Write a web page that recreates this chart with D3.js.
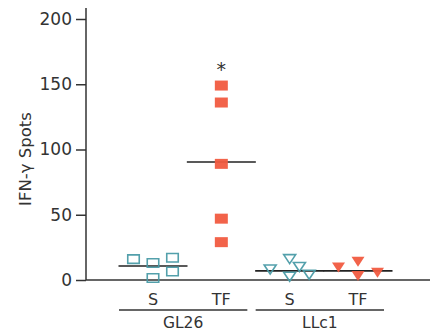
<!DOCTYPE html>
<html>
<head>
<meta charset="utf-8">
<script src="https://cdn.jsdelivr.net/npm/d3@7"></script>
<style>
  body { margin: 0; background: #fff; }
  text { font-family: "DejaVu Sans", sans-serif; fill: #333; }
</style>
</head>
<body>
<div id="chart"></div>
<script>
// data
var groups = ["GL26", "LLc1"];
var conditions = ["S", "TF"];
var yTicks = [0, 50, 100, 150, 200];

var gl26S = [16, 13, 1.5, 17, 6.5];
var gl26SSlot = [-2, 0, 0, 2, 2];
var gl26TF = [149, 136, 89, 47, 29];
var gl26TFSlot = [0, 0, 0, 0, 0];
var llc1S = [8, 16, 10, 2.5, 4];
var llc1SSlot = [-2, 0, 1, 0, 2];
var llc1TF = [9.5, 14, 3, 5.5];
var llc1TFSlot = [-2, 0, 0, 2];

var means = [10.7, 90.4, 7, 7];
var signif = ["", "*", "", ""];

var series = [
  {group: "GL26", cond: "S", values: gl26S, slots: gl26SSlot, shape: "square", filled: false},
  {group: "GL26", cond: "TF", values: gl26TF, slots: gl26TFSlot, shape: "square", filled: true},
  {group: "LLc1", cond: "S", values: llc1S, slots: llc1SSlot, shape: "triangle", filled: false},
  {group: "LLc1", cond: "TF", values: llc1TF, slots: llc1TFSlot, shape: "triangle", filled: true}
];
series.forEach(function(s, i) { s.key = s.group + " " + s.cond; s.mean = means[i]; s.mark = signif[i]; });

var width = 430, height = 332;
var teal = "#4a9ba6", red = "#f15b40", ink = "#333";

var svg = d3.select("#chart").append("svg").attr("width", width).attr("height", height);

var y = d3.scaleLinear().domain([0, 200]).range([280, 19]);
var x = d3.scalePoint().domain(series.map(function(s) { return s.key; })).range([153, 358]);
var slotX = d3.scaleLinear().domain([-2, 2]).range([-19.5, 19.5]);
var axisX = 86;

// y axis
var yAxis = svg.append("g")
  .attr("transform", "translate(" + axisX + ",0)")
  .call(d3.axisLeft(y).tickValues(yTicks).tickSize(10).tickPadding(4));
yAxis.select(".domain").remove();
yAxis.selectAll("line").attr("stroke", ink).attr("stroke-width", 1.5);
yAxis.selectAll("text").attr("font-size", 17).attr("font-family", "DejaVu Sans, sans-serif").attr("fill", ink);

svg.append("line").attr("x1", axisX).attr("x2", axisX).attr("y1", 8).attr("y2", y(0))
  .attr("stroke", ink).attr("stroke-width", 1.5);
svg.append("line").attr("x1", axisX).attr("x2", width).attr("y1", y(0)).attr("y2", y(0))
  .attr("stroke", ink).attr("stroke-width", 1.5);

svg.append("text")
  .attr("transform", "translate(31,159) rotate(-90)")
  .attr("text-anchor", "middle")
  .attr("font-size", 16.5)
  .text("IFN-γ Spots");

// mean lines
svg.selectAll(".mean").data(series).enter().append("line")
  .attr("class", "mean")
  .attr("x1", function(d) { return x(d.key) - 34.5; })
  .attr("x2", function(d) { return x(d.key) + 34.5; })
  .attr("y1", function(d) { return y(d.mean); })
  .attr("y2", function(d) { return y(d.mean); })
  .attr("stroke", "#222").attr("stroke-width", 1.6);

// points
var pts = [];
series.forEach(function(s) {
  s.values.forEach(function(v, i) { pts.push({s: s, v: v, slot: s.slots[i]}); });
});

svg.selectAll(".pt").data(pts).enter().append("path")
  .attr("class", "pt")
  .attr("transform", function(d) { return "translate(" + (x(d.s.key) + slotX(d.slot)) + "," + y(d.v) + ")"; })
  .attr("d", function(d) {
    if (d.s.shape === "square") {
      var w = d.s.filled ? 13 : 11.5, h = d.s.filled ? 10 : 8.5;
      return "M" + (-w / 2) + "," + (-h / 2) + "h" + w + "v" + h + "h" + (-w) + "Z";
    }
    var tw = d.s.filled ? 13 : 12, th = d.s.filled ? 10 : 9;
    return "M" + (-tw / 2) + "," + (-th / 2) + "h" + tw + "L0," + (th / 2) + "Z";
  })
  .attr("fill", function(d) { return d.s.filled ? red : "none"; })
  .attr("stroke", function(d) { return d.s.filled ? "none" : teal; })
  .attr("stroke-width", 1.6)
  .attr("opacity", 0.95);

// significance marks
svg.selectAll(".sig").data(series.filter(function(s) { return s.mark; })).enter().append("text")
  .attr("class", "sig")
  .attr("x", function(d) { return x(d.key); })
  .attr("y", function(d) { return y(d3.max(d.values)) - 10; })
  .attr("text-anchor", "middle")
  .attr("font-size", 19)
  .text(function(d) { return d.mark; });

// condition labels
svg.selectAll(".cond").data(series).enter().append("text")
  .attr("class", "cond")
  .attr("x", function(d) { return x(d.key); })
  .attr("y", 305)
  .attr("text-anchor", "middle")
  .attr("font-size", 16)
  .text(function(d) { return d.cond; });

// group underline + label
groups.forEach(function(g) {
  var x0 = x(g + " " + conditions[0]) - 34, x1 = x(g + " " + conditions[1]) + 26;
  svg.append("line").attr("x1", x0).attr("x2", x1).attr("y1", 310).attr("y2", 310)
    .attr("stroke", ink).attr("stroke-width", 1.5);
  svg.append("text").attr("x", (x0 + x1) / 2).attr("y", 328)
    .attr("text-anchor", "middle").attr("font-size", 15.5).text(g);
});
</script>
</body>
</html>
